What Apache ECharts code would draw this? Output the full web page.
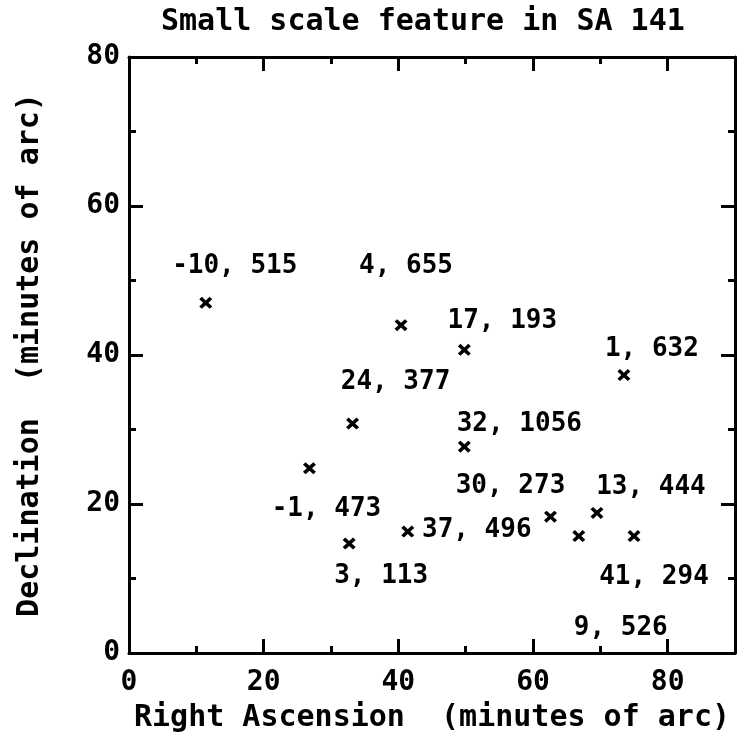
<!DOCTYPE html>
<html>
<head>
<meta charset="utf-8">
<title>Small scale feature in SA 141</title>
<script src="https://cdn.jsdelivr.net/npm/echarts@6/dist/echarts.min.js"></script>
<style>
  html, body { margin: 0; padding: 0; background: #fff; }
  #chart { width: 746px; height: 742px; }
</style>
</head>
<body>
<div id="chart"></div>
<script>
// Source positions (minutes of arc) and their annotations
const rightAscension = [11.4, 40.4, 49.8, 73.5, 33.2, 49.8, 26.8, 32.7, 41.4, 62.6, 66.8, 69.5, 75.0];
const declination    = [47.0, 44.0, 40.7, 37.3, 30.8, 27.7, 24.8, 14.7, 16.3, 18.3, 15.7, 18.8, 15.7];
const pointLabels    = ['-10, 515', '4, 655', '17, 193', '1, 632', '24, 377', '32, 1056',
                        '-1, 473', '3, 113', '37, 496', '30, 273', '9, 526', '13, 444', '41, 294'];
const xTicks = [0, 20, 40, 60, 80];
const yTicks = [0, 20, 40, 60, 80];

// Where each annotation sits relative to its cross, in pixels
const labelOffsets = [[29, -37], [5, -59], [38, -29], [28, -26], [43, -41], [55, -22],
                      [17, 41], [32, 33], [69, -1], [-40, -30], [42, 92], [54, -26], [20, 41]];

const FONT = '"DejaVu Sans Mono", "Liberation Mono", monospace';
const INK = '#000';

const gridBox = { left: 129, top: 57, width: 606, height: 596 };

const tickText = { fontFamily: FONT, fontWeight: 'bold', fontSize: 28, color: INK };
const nameText = { fontFamily: FONT, fontWeight: 'bold', fontSize: 30, color: INK };

// Frame with short ticks every 10 units
function minorAxis(extra) {
  return Object.assign({
    type: 'value',
    interval: 10,
    axisLine: { show: true, onZero: false, lineStyle: { color: INK, width: 3 } },
    axisTick: { show: true, inside: true, length: 7, lineStyle: { color: INK, width: 3 } },
    splitLine: { show: false },
    axisLabel: { show: false }
  }, extra);
}
// Overlay with longer ticks every 20 units
function majorAxis(extra) {
  return Object.assign({
    type: 'value',
    interval: 20,
    axisLine: { show: false, onZero: false },
    axisTick: { show: true, inside: true, length: 14, lineStyle: { color: INK, width: 3 } },
    splitLine: { show: false },
    axisLabel: { show: false }
  }, extra);
}

const crossPath = 'path://M0,2L2,0L5,3L8,0L10,2L7,5L10,8L8,10L5,7L2,10L0,8L3,5Z';

const points = rightAscension.map((ra, i) => ({
  value: [ra, declination[i]],
  name: pointLabels[i],
  label: { offset: labelOffsets[i] }
}));

const option = {
  backgroundColor: '#fff',
  animation: false,
  title: {
    text: 'Small scale feature in SA 141',
    left: 156,
    top: 2,
    textStyle: Object.assign({}, nameText)
  },
  grid: [Object.assign({}, gridBox), Object.assign({}, gridBox)],
  xAxis: [
    minorAxis({
      gridIndex: 0, position: 'bottom', min: 0, max: 90,
      axisLabel: Object.assign({
        show: true, margin: 16,
        formatter: v => (xTicks.indexOf(v) >= 0 ? String(v) : '')
      }, tickText),
      name: 'Right Ascension  (minutes of arc)',
      nameLocation: 'middle',
      nameGap: 50,
      nameTextStyle: nameText
    }),
    minorAxis({ gridIndex: 0, position: 'top', min: 0, max: 90 }),
    majorAxis({ gridIndex: 1, position: 'bottom', min: 0, max: 90 }),
    majorAxis({ gridIndex: 1, position: 'top', min: 0, max: 90 })
  ],
  yAxis: [
    minorAxis({
      gridIndex: 0, position: 'left', min: 0, max: 80,
      axisLabel: Object.assign({
        show: true, margin: 9,
        formatter: v => (yTicks.indexOf(v) >= 0 ? String(v) : '')
      }, tickText),
      name: 'Declination  (minutes of arc)',
      nameLocation: 'middle',
      nameGap: 84,
      nameTextStyle: nameText
    }),
    minorAxis({ gridIndex: 0, position: 'right', min: 0, max: 80 }),
    majorAxis({ gridIndex: 1, position: 'left', min: 0, max: 80 }),
    majorAxis({ gridIndex: 1, position: 'right', min: 0, max: 80 })
  ],
  series: [{
    type: 'scatter',
    xAxisIndex: 0,
    yAxisIndex: 0,
    symbol: crossPath,
    symbolSize: [13, 12],
    itemStyle: { color: INK, opacity: 1 },
    z: 5,
    label: {
      show: true,
      position: 'inside',
      align: 'center',
      verticalAlign: 'middle',
      formatter: p => p.name,
      fontFamily: FONT,
      fontWeight: 'bold',
      fontSize: 26,
      color: INK,
      opacity: 1,
      textBorderWidth: 0
    },
    data: points
  }]
};

echarts.init(document.getElementById('chart'), null, { renderer: 'canvas' }).setOption(option);
</script>
</body>
</html>
